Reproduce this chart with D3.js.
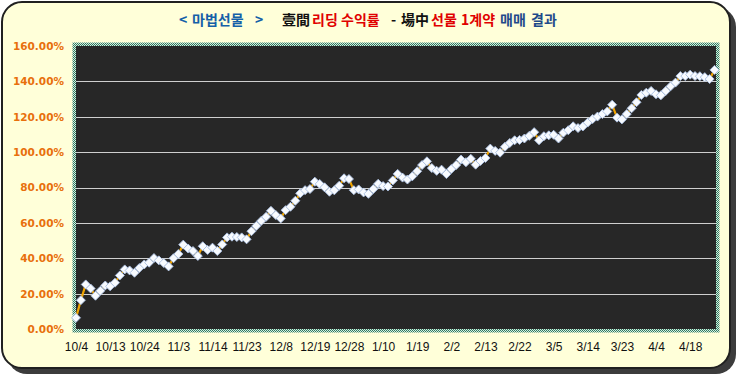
<!DOCTYPE html>
<html>
<head>
<meta charset="utf-8">
<script src="https://cdn.jsdelivr.net/npm/d3@7"></script>
<style>
  html, body { margin: 0; padding: 0; background: #ffffff; }
  svg { display: block; }
</style>
</head>
<body>
<div id="chart"></div>
<script>
// ---- data ----
const values = [
  6.3, 16.3, 25.2, 22.9, 18.8, 21.6, 24.6, 24.1, 26.2, 30.3,
  33.7, 33.1, 31.8, 34.5, 36.5, 37.5, 40.1, 38.8, 37.3, 35.4,
  40.0, 42.4, 47.7, 45.5, 44.1, 41.3, 46.8, 44.7, 46.0, 44.1,
  47.8, 51.8, 52.2, 52.0, 51.8, 50.7, 55.3, 58.3, 61.1, 63.4,
  66.8, 64.4, 62.5, 67.2, 69.1, 72.5, 76.7, 78.5, 79.1, 83.3,
  82.0, 80.1, 77.6, 78.4, 81.0, 85.2, 84.8, 78.5, 78.9, 77.2,
  76.4, 79.1, 82.1, 80.8, 80.6, 84.0, 87.7, 85.6, 84.5, 86.3,
  89.2, 92.7, 94.8, 91.0, 89.4, 90.1, 87.6, 90.4, 92.7, 95.8,
  94.3, 96.2, 92.9, 95.0, 96.7, 102.0, 100.7, 99.7, 103.0, 105.2,
  106.7, 106.9, 107.7, 109.2, 111.3, 106.7, 109.0, 109.5, 109.8, 107.7,
  111.0, 112.4, 114.6, 113.6, 114.5, 116.7, 118.7, 120.1, 121.5, 123.0,
  126.8, 119.5, 118.5, 121.5, 124.8, 128.2, 132.3, 133.6, 134.6, 132.7,
  132.1, 134.6, 137.2, 139.3, 143.0, 143.0, 143.8, 143.0, 142.9, 142.4,
  141.3, 146.5
];
const tickLabels = ["10/4","10/13","10/24","11/3","11/14","11/23","12/8","12/19","12/28",
  "1/10","1/19","2/2","2/13","2/22","3/5","3/14","3/23","4/4","4/18"];
const tickStep = 7;           // one date label every 7 trading days
const yTicks = [0, 20, 40, 60, 80, 100, 120, 140, 160];
const titleParts = [
  { t: "<",        x: 179, c: "#1560a8" },
  { t: "마법선물", x: 192, c: "#1560a8" },
  { t: ">",        x: 255, c: "#1560a8" },
  { t: "壹間",     x: 282, c: "#111111" },
  { t: "리딩",     x: 312, c: "#e00000" },
  { t: "수익률",   x: 341, c: "#e00000" },
  { t: "-",        x: 391, c: "#111111" },
  { t: "場中",     x: 401, c: "#111111" },
  { t: "선물",     x: 431, c: "#e00000" },
  { t: "1계약",    x: 461, c: "#e00000" },
  { t: "매매",     x: 500, c: "#1f4a8a" },
  { t: "결과",     x: 531, c: "#1f4a8a" }
];

// ---- layout ----
const W = 737, H = 375;
const plot = { x0: 76, x1: 716, y0: 46, y1: 329 };

const svg = d3.select("#chart").append("svg")
  .attr("width", W).attr("height", H);

const defs = svg.append("defs");
const pat = defs.append("pattern").attr("id", "checker")
  .attr("width", 2).attr("height", 2).attr("patternUnits", "userSpaceOnUse");
pat.append("rect").attr("width", 2).attr("height", 2).attr("fill", "#d9eedd");
pat.append("rect").attr("x", 0).attr("y", 0).attr("width", 1).attr("height", 1).attr("fill", "#2f7a64");
pat.append("rect").attr("x", 1).attr("y", 1).attr("width", 1).attr("height", 1).attr("fill", "#2f7a64");

// card shadow + card
svg.append("rect").attr("x", 7).attr("y", 7).attr("width", 729).attr("height", 367)
  .attr("rx", 20).attr("fill", "#3c3c3c");
svg.append("rect").attr("x", 2).attr("y", 2).attr("width", 728).attr("height", 366)
  .attr("rx", 20).attr("fill", "#ffffd9").attr("stroke", "#202020").attr("stroke-width", 2);

// title
const title = svg.append("text")
  .attr("y", 25)
  .attr("font-family", "'Noto Sans CJK KR', 'Noto Sans', sans-serif")
  .attr("font-size", 14).attr("font-weight", "bold");
titleParts.forEach(p => {
  title.append("tspan").attr("x", p.x).attr("fill", p.c).text(p.t);
});

// scales
const x = d3.scaleLinear().domain([0, values.length - 1]).range([plot.x0, plot.x1 - 1.5]);
const y = d3.scaleLinear().domain([0, 160]).range([plot.y1, plot.y0]);

// plot frame
svg.append("rect").attr("x", plot.x0 - 3.5).attr("y", plot.y0 - 3.5)
  .attr("width", plot.x1 - plot.x0 + 7).attr("height", plot.y1 - plot.y0 + 7)
  .attr("fill", "url(#checker)");
svg.append("rect").attr("x", plot.x0).attr("y", plot.y0)
  .attr("width", plot.x1 - plot.x0).attr("height", plot.y1 - plot.y0)
  .attr("fill", "#272727");

// gridlines
svg.append("g").selectAll("line")
  .data(yTicks.filter(v => v > 0 && v < 160))
  .join("line")
  .attr("x1", plot.x0).attr("x2", plot.x1)
  .attr("y1", d => Math.round(y(d)) + 0.5).attr("y2", d => Math.round(y(d)) + 0.5)
  .attr("stroke", "#cfcfcf").attr("stroke-width", 1);

// y axis labels
const yAxis = d3.axisLeft(y).tickValues(yTicks)
  .tickFormat(d => d3.format(".2f")(d) + "%").tickSize(0).tickPadding(0);
const gy = svg.append("g").attr("transform", `translate(${plot.x0 - 12},0)`).call(yAxis);
gy.select(".domain").remove();
gy.selectAll("text")
  .attr("fill", "#e8700c").attr("font-size", 10.5).attr("font-weight", "bold")
  .attr("font-family", "'DejaVu Sans', Verdana, sans-serif");

// x axis labels
const xAxis = d3.axisBottom(x)
  .tickValues(tickLabels.map((_, i) => i * tickStep))
  .tickFormat((d, i) => tickLabels[i]).tickSize(0).tickPadding(0);
const gx = svg.append("g").attr("transform", `translate(0,${plot.y1 + 13})`).call(xAxis);
gx.select(".domain").remove();
gx.selectAll("text")
  .attr("fill", "#111").attr("font-size", 12)
  .attr("font-family", "'Liberation Sans', Arial, sans-serif");

// line
svg.append("path").datum(values)
  .attr("d", d3.line().x((d, i) => x(i)).y(d => y(d)))
  .attr("fill", "none").attr("stroke", "#f0a400").attr("stroke-width", 2.2);

// diamond markers
const r = 4.5;
svg.append("g").selectAll("path")
  .data(values)
  .join("path")
  .attr("transform", (d, i) => `translate(${x(i)},${y(d)})`)
  .attr("d", `M0,${-r}L${r},0L0,${r}L${-r},0Z`)
  .attr("fill", "#f8fbff").attr("stroke", "#a8bde0").attr("stroke-width", 0.9);
</script>
</body>
</html>
